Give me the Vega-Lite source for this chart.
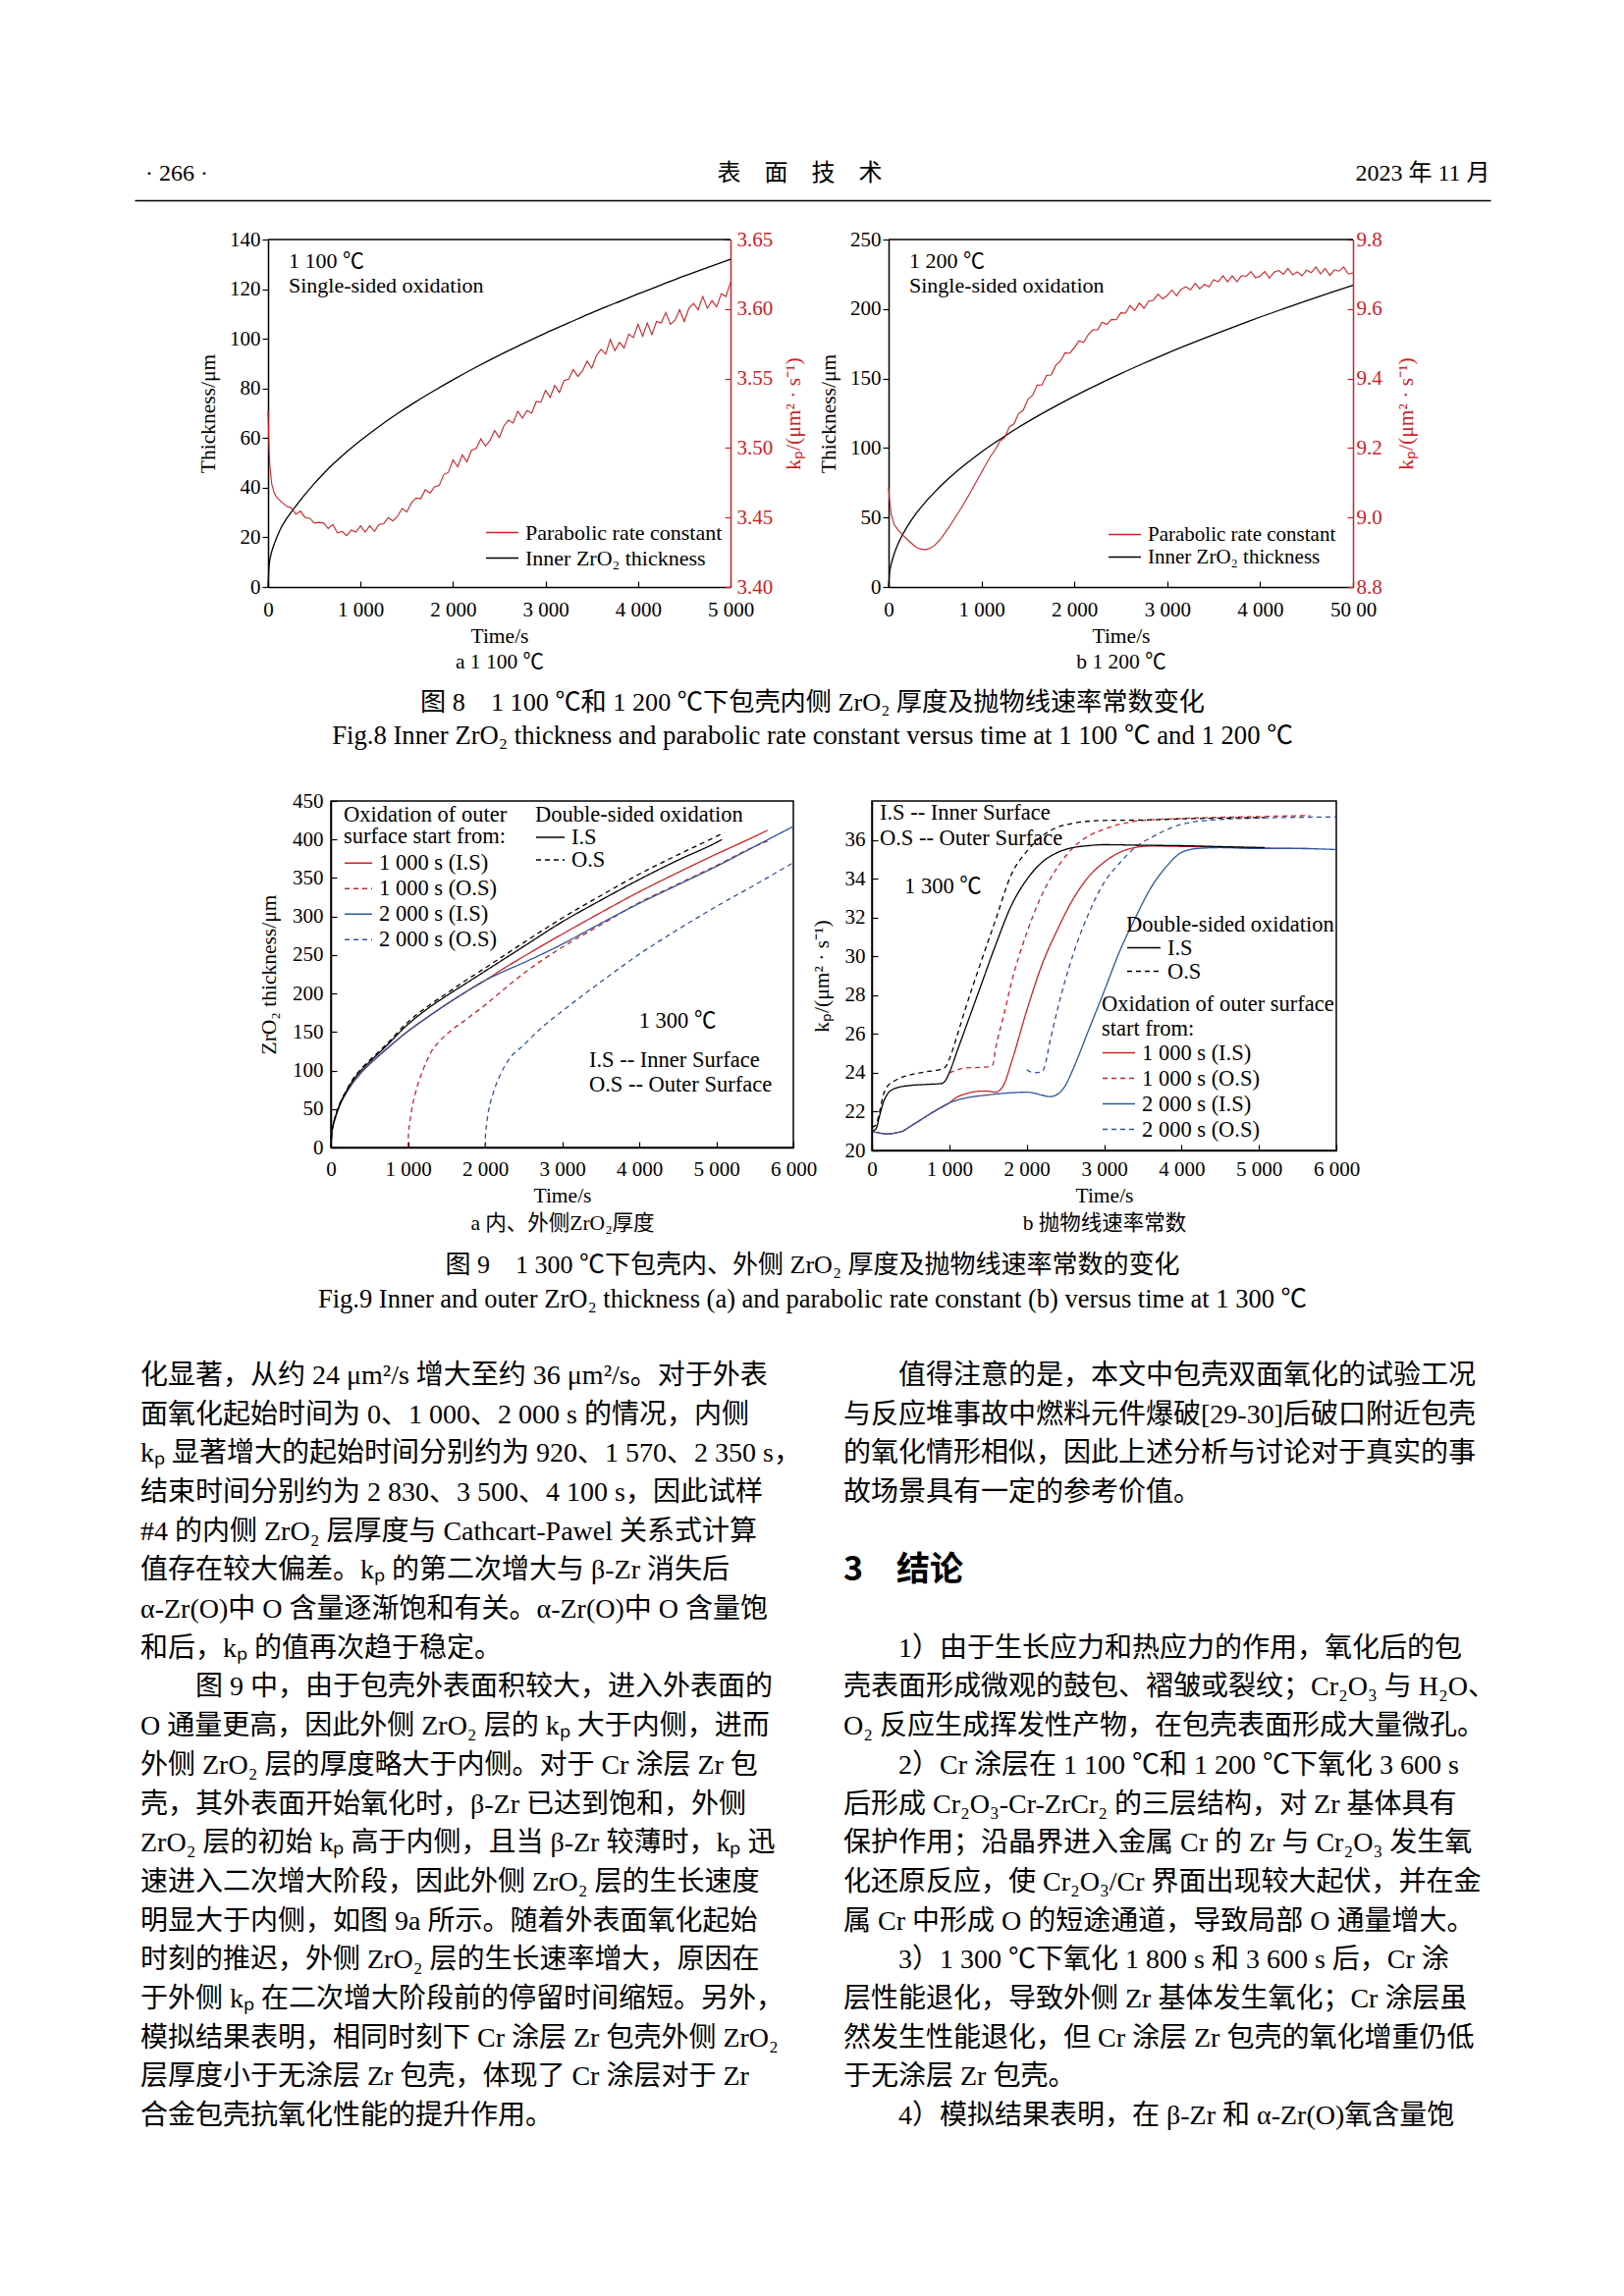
{
"$schema": "https://vega.github.io/schema/vega-lite/v6.json",
"width": 1654, "height": 2339,
"autosize": {"type": "none"},
"padding": 0,
"background": "white",
"config": {
  "view": {"stroke": null},
  "axis": {"grid": false, "labelFont": "Liberation Serif, Noto Sans CJK SC", "titleFont": "Liberation Serif, Noto Sans CJK SC", "labelFontSize": 21, "titleFontSize": 21.5, "titleFontWeight": "normal", "labelColor": "black", "titleColor": "black", "domainColor": "black", "tickColor": "black", "domainWidth": 1.5, "tickWidth": 1.2, "labelFlush": false, "labelOverlap": false},
  "legend": {"orient": "none", "labelFont": "Liberation Serif, Noto Sans CJK SC", "titleFont": "Liberation Serif, Noto Sans CJK SC", "labelFontSize": 22.5, "titleFontSize": 22.5, "titleFontWeight": "normal", "labelColor": "black", "titleColor": "black", "symbolType": "stroke", "symbolStrokeWidth": 1.5, "padding": 0, "rowPadding": 4, "labelOffset": 6, "titlePadding": 5, "labelLimit": 500, "titleLimit": 500},
  "text": {"font": "Liberation Serif, Noto Sans CJK SC", "color": "black"}
},
"datasets": {
  "header": [{"part": "page", "text": "· 266 ·"}, {"part": "journal", "text": "表　面　技　术"}, {"part": "date", "text": "2023 年 11 月"}],
  "cap8": [{"lang": "zh", "text": "图 8　1 100 ℃和 1 200 ℃下包壳内侧 ZrO₂ 厚度及抛物线速率常数变化"}, {"lang": "en", "text": "Fig.8 Inner ZrO₂ thickness and parabolic rate constant versus time at 1 100 ℃ and 1 200 ℃"}],
  "cap9": [{"lang": "zh", "text": "图 9　1 300 ℃下包壳内、外侧 ZrO₂ 厚度及抛物线速率常数的变化"}, {"lang": "en", "text": "Fig.9 Inner and outer ZrO₂ thickness (a) and parabolic rate constant (b) versus time at 1 300 ℃"}],
  "ann8a": [{"label": ["1 100 ℃", "Single-sided oxidation"]}],
  "ann8b": [{"label": ["1 200 ℃", "Single-sided oxidation"]}],
  "ann9a_t": [{"label": "1 300 ℃"}],
  "ann9_s": [{"label": ["I.S -- Inner Surface", "O.S -- Outer Surface"]}],
  "f8a_thick": [{"t":0,"v":0},{"t":10,"v":8},{"t":25,"v":12},{"t":50,"v":15.5},{"t":100,"v":20.5},{"t":150,"v":24.5},{"t":200,"v":27.5},{"t":300,"v":32.6},{"t":400,"v":37.3},{"t":500,"v":41.7},{"t":600,"v":45.7},{"t":700,"v":49.4},{"t":800,"v":52.8},{"t":1000,"v":59},{"t":1200,"v":64.7},{"t":1400,"v":69.9},{"t":1600,"v":74.7},{"t":1800,"v":79.2},{"t":2000,"v":83.5},{"t":2250,"v":88.6},{"t":2500,"v":93.4},{"t":2750,"v":97.9},{"t":3000,"v":102.3},{"t":3250,"v":106.4},{"t":3500,"v":110.5},{"t":3750,"v":114.3},{"t":4000,"v":118.1},{"t":4250,"v":121.7},{"t":4500,"v":125.3},{"t":4750,"v":128.7},{"t":5000,"v":132}],
  "f8a_kp": [{"t":0,"v":3.527},{"t":5,"v":3.515},{"t":10,"v":3.5},{"t":20,"v":3.487},{"t":40,"v":3.474},{"t":70,"v":3.467},{"t":100,"v":3.464},{"t":150,"v":3.461},{"t":200,"v":3.458},{"t":250,"v":3.457},{"t":300,"v":3.4525},{"t":350,"v":3.4545},{"t":400,"v":3.45},{"t":450,"v":3.4495},{"t":500,"v":3.446},{"t":550,"v":3.4465},
    {"t":600,"v":3.446},{"t":650,"v":3.442},{"t":700,"v":3.445},{"t":750,"v":3.439},{"t":800,"v":3.44},{"t":850,"v":3.437},{"t":900,"v":3.441},{"t":950,"v":3.4395},{"t":1000,"v":3.444},{"t":1050,"v":3.4395},{"t":1100,"v":3.444},{"t":1150,"v":3.44},{"t":1200,"v":3.445},{"t":1250,"v":3.4455},{"t":1300,"v":3.45},{"t":1350,"v":3.4475},{"t":1400,"v":3.451},{"t":1450,"v":3.4565},{"t":1500,"v":3.454},{"t":1550,"v":3.4605},
    {"t":1600,"v":3.464},{"t":1650,"v":3.4635},{"t":1700,"v":3.47},{"t":1750,"v":3.4675},{"t":1800,"v":3.472},{"t":1850,"v":3.473},{"t":1900,"v":3.481},{"t":1950,"v":3.4825},{"t":2000,"v":3.4915},{"t":2050,"v":3.4865},{"t":2100,"v":3.495},{"t":2150,"v":3.49},{"t":2200,"v":3.4985},{"t":2250,"v":3.4995},{"t":2300,"v":3.5065},{"t":2350,"v":3.5015},{"t":2400,"v":3.5055},{"t":2450,"v":3.5125},{"t":2500,"v":3.5075},{"t":2550,"v":3.516},
    {"t":2600,"v":3.52},{"t":2650,"v":3.518},{"t":2700,"v":3.5265},{"t":2750,"v":3.5215},{"t":2800,"v":3.527},{"t":2850,"v":3.525},{"t":2900,"v":3.5335},{"t":2950,"v":3.533},{"t":3000,"v":3.5415},{"t":3050,"v":3.5365},{"t":3100,"v":3.545},{"t":3150,"v":3.54},{"t":3200,"v":3.5485},{"t":3250,"v":3.5495},{"t":3300,"v":3.5565},{"t":3350,"v":3.5515},{"t":3400,"v":3.5555},{"t":3450,"v":3.5625},{"t":3500,"v":3.5575},{"t":3550,"v":3.5665},
    {"t":3600,"v":3.571},{"t":3650,"v":3.5675},{"t":3700,"v":3.578},{"t":3750,"v":3.57},{"t":3800,"v":3.576},{"t":3850,"v":3.572},{"t":3900,"v":3.582},{"t":3950,"v":3.5795},{"t":4000,"v":3.589},{"t":4050,"v":3.5805},{"t":4100,"v":3.59},{"t":4150,"v":3.5815},{"t":4200,"v":3.591},{"t":4250,"v":3.59},{"t":4300,"v":3.5975},{"t":4350,"v":3.589},{"t":4400,"v":3.592},{"t":4450,"v":3.5995},{"t":4500,"v":3.591},{"t":4550,"v":3.6005},
    {"t":4600,"v":3.604},{"t":4650,"v":3.5995},{"t":4700,"v":3.609},{"t":4750,"v":3.6005},{"t":4800,"v":3.606},{"t":4850,"v":3.6015},{"t":4900,"v":3.611},{"t":4950,"v":3.609},{"t":5000,"v":3.619}],
  "f8b_thick": [{"t":0,"v":0},{"t":10,"v":9.7},{"t":25,"v":15.4},{"t":50,"v":21.7},{"t":100,"v":30.7},{"t":150,"v":37.6},{"t":200,"v":43.4},{"t":300,"v":53.2},{"t":400,"v":61.4},{"t":500,"v":68.6},{"t":600,"v":75.2},{"t":700,"v":81.2},{"t":800,"v":86.8},{"t":1000,"v":97.1},{"t":1200,"v":106.3},{"t":1400,"v":114.9},{"t":1600,"v":122.8},{"t":1800,"v":130.2},{"t":2000,"v":137.3},{"t":2250,"v":145.6},{"t":2500,"v":153.5},{"t":2750,"v":161},{"t":3000,"v":168.2},{"t":3250,"v":175},{"t":3500,"v":181.6},{"t":3750,"v":188},{"t":4000,"v":194.2},{"t":4250,"v":200.1},{"t":4500,"v":205.9},{"t":4750,"v":211.6},{"t":5000,"v":217.1}],
  "f8b_kp": [{"t":0,"v":9.087},{"t":10,"v":9.05},{"t":30,"v":9.007},{"t":60,"v":8.98},{"t":100,"v":8.965},{"t":150,"v":8.95},{"t":200,"v":8.937},{"t":250,"v":8.925},{"t":300,"v":8.914},{"t":350,"v":8.909},{"t":400,"v":8.907},{"t":450,"v":8.912},{"t":500,"v":8.921},{"t":550,"v":8.935},{"t":600,"v":8.953},{"t":650,"v":8.972},{"t":700,"v":8.993},{"t":750,"v":9.014},{"t":800,"v":9.035},{"t":850,"v":9.058},{"t":900,"v":9.082},{"t":950,"v":9.106},{"t":1000,"v":9.13},{"t":1050,"v":9.154},{"t":1100,"v":9.177},{"t":1150,"v":9.196},
    {"t":1200,"v":9.22},{"t":1250,"v":9.23},{"t":1300,"v":9.261},{"t":1350,"v":9.2695},{"t":1400,"v":9.299},{"t":1450,"v":9.309},{"t":1500,"v":9.34},{"t":1550,"v":9.3515},{"t":1600,"v":9.381},{"t":1650,"v":9.3815},{"t":1700,"v":9.409},{"t":1750,"v":9.41},{"t":1800,"v":9.438},{"t":1850,"v":9.45},{"t":1900,"v":9.474},{"t":1950,"v":9.4725},{"t":2000,"v":9.489},{"t":2050,"v":9.5085},{"t":2100,"v":9.504},{"t":2150,"v":9.5265},
    {"t":2200,"v":9.54},{"t":2250,"v":9.5405},{"t":2300,"v":9.562},{"t":2350,"v":9.5555},{"t":2400,"v":9.57},{"t":2450,"v":9.569},{"t":2500,"v":9.589},{"t":2550,"v":9.588},{"t":2600,"v":9.61},{"t":2650,"v":9.5955},{"t":2700,"v":9.617},{"t":2750,"v":9.602},{"t":2800,"v":9.623},{"t":2850,"v":9.625},{"t":2900,"v":9.643},{"t":2950,"v":9.629},{"t":3000,"v":9.639},{"t":3050,"v":9.6545},{"t":3100,"v":9.638},{"t":3150,"v":9.657},
    {"t":3200,"v":9.664},{"t":3250,"v":9.655},{"t":3300,"v":9.674},{"t":3350,"v":9.6585},{"t":3400,"v":9.671},{"t":3450,"v":9.6635},{"t":3500,"v":9.684},{"t":3550,"v":9.678},{"t":3600,"v":9.696},{"t":3650,"v":9.678},{"t":3700,"v":9.696},{"t":3750,"v":9.678},{"t":3800,"v":9.696},{"t":3850,"v":9.694},{"t":3900,"v":9.708},{"t":3950,"v":9.6895},{"t":4000,"v":9.695},{"t":4050,"v":9.708},{"t":4100,"v":9.689},{"t":4150,"v":9.706},
    {"t":4200,"v":9.711},{"t":4250,"v":9.7},{"t":4300,"v":9.717},{"t":4350,"v":9.698},{"t":4400,"v":9.707},{"t":4450,"v":9.6955},{"t":4500,"v":9.712},{"t":4550,"v":9.7045},{"t":4600,"v":9.721},{"t":4650,"v":9.701},{"t":4700,"v":9.717},{"t":4750,"v":9.697},{"t":4800,"v":9.713},{"t":4850,"v":9.709},{"t":4900,"v":9.7205},{"t":4950,"v":9.7005},{"t":5000,"v":9.704}],
  "f9a_ds": [
    {"surface":"I.S","t":0,"v":0},{"surface":"I.S","t":10,"v":17},{"surface":"I.S","t":25,"v":27},{"surface":"I.S","t":50,"v":37},{"surface":"I.S","t":100,"v":52},{"surface":"I.S","t":200,"v":73},{"surface":"I.S","t":300,"v":89},{"surface":"I.S","t":400,"v":101},{"surface":"I.S","t":500,"v":111},{"surface":"I.S","t":700,"v":130},{"surface":"I.S","t":1000,"v":160},{"surface":"I.S","t":1250,"v":180},{"surface":"I.S","t":1500,"v":197},{"surface":"I.S","t":1750,"v":213},{"surface":"I.S","t":2000,"v":229},{"surface":"I.S","t":2500,"v":261},{"surface":"I.S","t":3000,"v":293},{"surface":"I.S","t":3500,"v":321},{"surface":"I.S","t":4000,"v":348},{"surface":"I.S","t":4500,"v":373},{"surface":"I.S","t":5000,"v":396},{"surface":"I.S","t":5075,"v":400},
    {"surface":"O.S","t":0,"v":0},{"surface":"O.S","t":10,"v":18},{"surface":"O.S","t":25,"v":28},{"surface":"O.S","t":50,"v":38},{"surface":"O.S","t":100,"v":53},{"surface":"O.S","t":200,"v":74},{"surface":"O.S","t":300,"v":91},{"surface":"O.S","t":400,"v":103},{"surface":"O.S","t":500,"v":113},{"surface":"O.S","t":700,"v":132},{"surface":"O.S","t":1000,"v":163},{"surface":"O.S","t":1250,"v":183},{"surface":"O.S","t":1500,"v":200},{"surface":"O.S","t":1750,"v":217},{"surface":"O.S","t":2000,"v":233},{"surface":"O.S","t":2500,"v":266},{"surface":"O.S","t":3000,"v":298},{"surface":"O.S","t":3500,"v":327},{"surface":"O.S","t":4000,"v":355},{"surface":"O.S","t":4500,"v":380},{"surface":"O.S","t":5000,"v":404},{"surface":"O.S","t":5100,"v":409}],
  "f9a_os": [
    {"series":"1 000 s (I.S)","t":0,"v":0},{"series":"1 000 s (I.S)","t":10,"v":17},{"series":"1 000 s (I.S)","t":25,"v":27},{"series":"1 000 s (I.S)","t":50,"v":36},{"series":"1 000 s (I.S)","t":100,"v":51},{"series":"1 000 s (I.S)","t":200,"v":71},{"series":"1 000 s (I.S)","t":300,"v":86},{"series":"1 000 s (I.S)","t":400,"v":98},{"series":"1 000 s (I.S)","t":500,"v":108},{"series":"1 000 s (I.S)","t":700,"v":126},{"series":"1 000 s (I.S)","t":1000,"v":151},{"series":"1 000 s (I.S)","t":1250,"v":169},{"series":"1 000 s (I.S)","t":1500,"v":186},{"series":"1 000 s (I.S)","t":1750,"v":202},{"series":"1 000 s (I.S)","t":2000,"v":217},{"series":"1 000 s (I.S)","t":2250,"v":233},{"series":"1 000 s (I.S)","t":2500,"v":248},{"series":"1 000 s (I.S)","t":3000,"v":277},{"series":"1 000 s (I.S)","t":3500,"v":305},{"series":"1 000 s (I.S)","t":4000,"v":332},{"series":"1 000 s (I.S)","t":4500,"v":357},{"series":"1 000 s (I.S)","t":5000,"v":381},{"series":"1 000 s (I.S)","t":5500,"v":404},{"series":"1 000 s (I.S)","t":5665,"v":412},
    {"series":"1 000 s (O.S)","t":1000,"v":0},{"series":"1 000 s (O.S)","t":1005,"v":15},{"series":"1 000 s (O.S)","t":1020,"v":30},{"series":"1 000 s (O.S)","t":1050,"v":50},{"series":"1 000 s (O.S)","t":1100,"v":72},{"series":"1 000 s (O.S)","t":1200,"v":102},{"series":"1 000 s (O.S)","t":1300,"v":124},{"series":"1 000 s (O.S)","t":1400,"v":137},{"series":"1 000 s (O.S)","t":1500,"v":147},{"series":"1 000 s (O.S)","t":1750,"v":166},{"series":"1 000 s (O.S)","t":2000,"v":185},{"series":"1 000 s (O.S)","t":2250,"v":206},{"series":"1 000 s (O.S)","t":2500,"v":226},{"series":"1 000 s (O.S)","t":3000,"v":260},{"series":"1 000 s (O.S)","t":3500,"v":289},{"series":"1 000 s (O.S)","t":4000,"v":318},{"series":"1 000 s (O.S)","t":4500,"v":342},{"series":"1 000 s (O.S)","t":5000,"v":366},{"series":"1 000 s (O.S)","t":5500,"v":391},{"series":"1 000 s (O.S)","t":5665,"v":398},
    {"series":"2 000 s (I.S)","t":0,"v":0},{"series":"2 000 s (I.S)","t":10,"v":17},{"series":"2 000 s (I.S)","t":25,"v":27},{"series":"2 000 s (I.S)","t":50,"v":36},{"series":"2 000 s (I.S)","t":100,"v":51},{"series":"2 000 s (I.S)","t":200,"v":71},{"series":"2 000 s (I.S)","t":300,"v":86},{"series":"2 000 s (I.S)","t":400,"v":98},{"series":"2 000 s (I.S)","t":500,"v":108},{"series":"2 000 s (I.S)","t":700,"v":126},{"series":"2 000 s (I.S)","t":1000,"v":151},{"series":"2 000 s (I.S)","t":1250,"v":169},{"series":"2 000 s (I.S)","t":1500,"v":186},{"series":"2 000 s (I.S)","t":1750,"v":202},{"series":"2 000 s (I.S)","t":2000,"v":217},{"series":"2 000 s (I.S)","t":2250,"v":229},{"series":"2 000 s (I.S)","t":2500,"v":240},{"series":"2 000 s (I.S)","t":3000,"v":264},{"series":"2 000 s (I.S)","t":3500,"v":291},{"series":"2 000 s (I.S)","t":4000,"v":317},{"series":"2 000 s (I.S)","t":4500,"v":341},{"series":"2 000 s (I.S)","t":5000,"v":365},{"series":"2 000 s (I.S)","t":5500,"v":391},{"series":"2 000 s (I.S)","t":6000,"v":417},
    {"series":"2 000 s (O.S)","t":2000,"v":0},{"series":"2 000 s (O.S)","t":2005,"v":15},{"series":"2 000 s (O.S)","t":2020,"v":30},{"series":"2 000 s (O.S)","t":2050,"v":50},{"series":"2 000 s (O.S)","t":2100,"v":69},{"series":"2 000 s (O.S)","t":2200,"v":95},{"series":"2 000 s (O.S)","t":2300,"v":113},{"series":"2 000 s (O.S)","t":2500,"v":133},{"series":"2 000 s (O.S)","t":2750,"v":157},{"series":"2 000 s (O.S)","t":3000,"v":177},{"series":"2 000 s (O.S)","t":3500,"v":215},{"series":"2 000 s (O.S)","t":4000,"v":251},{"series":"2 000 s (O.S)","t":4500,"v":283},{"series":"2 000 s (O.S)","t":5000,"v":313},{"series":"2 000 s (O.S)","t":5500,"v":341},{"series":"2 000 s (O.S)","t":6000,"v":370}],
  "f9b_ds": [
    {"surface":"I.S","t":0,"v":21.0},{"surface":"I.S","t":50,"v":21.1},{"surface":"I.S","t":100,"v":21.8},{"surface":"I.S","t":150,"v":22.5},{"surface":"I.S","t":200,"v":22.9},{"surface":"I.S","t":300,"v":23.2},{"surface":"I.S","t":500,"v":23.35},{"surface":"I.S","t":700,"v":23.4},{"surface":"I.S","t":900,"v":23.45},{"surface":"I.S","t":950,"v":23.6},{"surface":"I.S","t":1000,"v":24.0},{"surface":"I.S","t":1100,"v":25.1},{"surface":"I.S","t":1200,"v":26.2},{"surface":"I.S","t":1400,"v":28.4},{"surface":"I.S","t":1600,"v":30.6},{"surface":"I.S","t":1800,"v":32.6},{"surface":"I.S","t":2000,"v":33.95},{"surface":"I.S","t":2200,"v":34.85},{"surface":"I.S","t":2400,"v":35.35},{"surface":"I.S","t":2600,"v":35.6},{"surface":"I.S","t":2800,"v":35.7},{"surface":"I.S","t":3000,"v":35.75},{"surface":"I.S","t":3500,"v":35.72},{"surface":"I.S","t":4000,"v":35.7},{"surface":"I.S","t":4500,"v":35.65},{"surface":"I.S","t":5075,"v":35.6},
    {"surface":"O.S","t":0,"v":21.2},{"surface":"O.S","t":50,"v":21.3},{"surface":"O.S","t":100,"v":22.0},{"surface":"O.S","t":150,"v":22.9},{"surface":"O.S","t":200,"v":23.3},{"surface":"O.S","t":300,"v":23.6},{"surface":"O.S","t":500,"v":23.9},{"surface":"O.S","t":700,"v":24.05},{"surface":"O.S","t":900,"v":24.2},{"surface":"O.S","t":950,"v":24.3},{"surface":"O.S","t":1000,"v":24.7},{"surface":"O.S","t":1100,"v":25.9},{"surface":"O.S","t":1200,"v":27.2},{"surface":"O.S","t":1400,"v":29.6},{"surface":"O.S","t":1600,"v":31.9},{"surface":"O.S","t":1800,"v":34.2},{"surface":"O.S","t":2000,"v":35.4},{"surface":"O.S","t":2200,"v":36.2},{"surface":"O.S","t":2400,"v":36.65},{"surface":"O.S","t":2600,"v":36.85},{"surface":"O.S","t":3000,"v":37.0},{"surface":"O.S","t":3500,"v":37.02},{"surface":"O.S","t":4000,"v":37.08},{"surface":"O.S","t":4500,"v":37.12},{"surface":"O.S","t":5075,"v":37.15}],
  "f9b_os": [
    {"series":"1 000 s (I.S)","t":0,"v":21.0},{"series":"1 000 s (I.S)","t":100,"v":20.9},{"series":"1 000 s (I.S)","t":200,"v":20.85},{"series":"1 000 s (I.S)","t":300,"v":20.9},{"series":"1 000 s (I.S)","t":400,"v":21.0},{"series":"1 000 s (I.S)","t":500,"v":21.25},{"series":"1 000 s (I.S)","t":600,"v":21.5},{"series":"1 000 s (I.S)","t":800,"v":22.0},{"series":"1 000 s (I.S)","t":1000,"v":22.45},{"series":"1 000 s (I.S)","t":1100,"v":22.75},{"series":"1 000 s (I.S)","t":1200,"v":22.9},{"series":"1 000 s (I.S)","t":1400,"v":23.05},{"series":"1 000 s (I.S)","t":1500,"v":23.05},{"series":"1 000 s (I.S)","t":1600,"v":23.0},{"series":"1 000 s (I.S)","t":1650,"v":23.1},{"series":"1 000 s (I.S)","t":1700,"v":23.35},{"series":"1 000 s (I.S)","t":1800,"v":24.5},{"series":"1 000 s (I.S)","t":2000,"v":27.2},{"series":"1 000 s (I.S)","t":2200,"v":29.6},{"series":"1 000 s (I.S)","t":2400,"v":31.4},{"series":"1 000 s (I.S)","t":2600,"v":32.95},{"series":"1 000 s (I.S)","t":2800,"v":34.1},{"series":"1 000 s (I.S)","t":3000,"v":34.85},{"series":"1 000 s (I.S)","t":3200,"v":35.35},{"series":"1 000 s (I.S)","t":3400,"v":35.6},{"series":"1 000 s (I.S)","t":3600,"v":35.68},{"series":"1 000 s (I.S)","t":4000,"v":35.66},{"series":"1 000 s (I.S)","t":5000,"v":35.58},{"series":"1 000 s (I.S)","t":5665,"v":35.55},
    {"series":"1 000 s (O.S)","t":1000,"v":24.0},{"series":"1 000 s (O.S)","t":1100,"v":24.15},{"series":"1 000 s (O.S)","t":1200,"v":24.25},{"series":"1 000 s (O.S)","t":1400,"v":24.28},{"series":"1 000 s (O.S)","t":1500,"v":24.3},{"series":"1 000 s (O.S)","t":1560,"v":24.4},{"series":"1 000 s (O.S)","t":1600,"v":25.3},{"series":"1 000 s (O.S)","t":1700,"v":26.9},{"series":"1 000 s (O.S)","t":1800,"v":28.6},{"series":"1 000 s (O.S)","t":2000,"v":31.2},{"series":"1 000 s (O.S)","t":2200,"v":33.2},{"series":"1 000 s (O.S)","t":2400,"v":34.6},{"series":"1 000 s (O.S)","t":2600,"v":35.6},{"series":"1 000 s (O.S)","t":2800,"v":36.2},{"series":"1 000 s (O.S)","t":3000,"v":36.55},{"series":"1 000 s (O.S)","t":3200,"v":36.8},{"series":"1 000 s (O.S)","t":3500,"v":37.0},{"series":"1 000 s (O.S)","t":4000,"v":37.1},{"series":"1 000 s (O.S)","t":5000,"v":37.2},{"series":"1 000 s (O.S)","t":5665,"v":37.25},
    {"series":"2 000 s (I.S)","t":0,"v":21.0},{"series":"2 000 s (I.S)","t":100,"v":20.9},{"series":"2 000 s (I.S)","t":200,"v":20.85},{"series":"2 000 s (I.S)","t":300,"v":20.9},{"series":"2 000 s (I.S)","t":400,"v":21.0},{"series":"2 000 s (I.S)","t":500,"v":21.25},{"series":"2 000 s (I.S)","t":600,"v":21.5},{"series":"2 000 s (I.S)","t":800,"v":22.0},{"series":"2 000 s (I.S)","t":1000,"v":22.45},{"series":"2 000 s (I.S)","t":1200,"v":22.69},{"series":"2 000 s (I.S)","t":1500,"v":22.86},{"series":"2 000 s (I.S)","t":1800,"v":22.97},{"series":"2 000 s (I.S)","t":2000,"v":23.0},{"series":"2 000 s (I.S)","t":2100,"v":22.95},{"series":"2 000 s (I.S)","t":2200,"v":22.85},{"series":"2 000 s (I.S)","t":2300,"v":22.77},{"series":"2 000 s (I.S)","t":2400,"v":22.9},{"series":"2 000 s (I.S)","t":2500,"v":23.35},{"series":"2 000 s (I.S)","t":2600,"v":24.2},{"series":"2 000 s (I.S)","t":2800,"v":26.2},{"series":"2 000 s (I.S)","t":3000,"v":28.2},{"series":"2 000 s (I.S)","t":3200,"v":30.25},{"series":"2 000 s (I.S)","t":3400,"v":31.95},{"series":"2 000 s (I.S)","t":3600,"v":33.5},{"series":"2 000 s (I.S)","t":3800,"v":34.6},{"series":"2 000 s (I.S)","t":4000,"v":35.35},{"series":"2 000 s (I.S)","t":4200,"v":35.55},{"series":"2 000 s (I.S)","t":4500,"v":35.6},{"series":"2 000 s (I.S)","t":5000,"v":35.55},{"series":"2 000 s (I.S)","t":5500,"v":35.55},{"series":"2 000 s (I.S)","t":6000,"v":35.5},
    {"series":"2 000 s (O.S)","t":2000,"v":24.15},{"series":"2 000 s (O.S)","t":2100,"v":24.0},{"series":"2 000 s (O.S)","t":2200,"v":24.05},{"series":"2 000 s (O.S)","t":2230,"v":24.3},{"series":"2 000 s (O.S)","t":2300,"v":25.6},{"series":"2 000 s (O.S)","t":2400,"v":27.3},{"series":"2 000 s (O.S)","t":2600,"v":30.1},{"series":"2 000 s (O.S)","t":2800,"v":32.2},{"series":"2 000 s (O.S)","t":3000,"v":33.8},{"series":"2 000 s (O.S)","t":3200,"v":34.8},{"series":"2 000 s (O.S)","t":3400,"v":35.6},{"series":"2 000 s (O.S)","t":3600,"v":36.1},{"series":"2 000 s (O.S)","t":3800,"v":36.5},{"series":"2 000 s (O.S)","t":4000,"v":36.8},{"series":"2 000 s (O.S)","t":4500,"v":37.05},{"series":"2 000 s (O.S)","t":5000,"v":37.12},{"series":"2 000 s (O.S)","t":6000,"v":37.18}],
  "body": [
    {"col":"left","line":1,"text":"化显著，从约 24 μm²/s 增大至约 36 μm²/s。对于外表"},
    {"col":"left","line":2,"text":"面氧化起始时间为 0、1 000、2 000 s 的情况，内侧"},
    {"col":"left","line":3,"text":"kₚ 显著增大的起始时间分别约为 920、1 570、2 350 s，"},
    {"col":"left","line":4,"text":"结束时间分别约为 2 830、3 500、4 100 s，因此试样"},
    {"col":"left","line":5,"text":"#4 的内侧 ZrO₂ 层厚度与 Cathcart-Pawel 关系式计算"},
    {"col":"left","line":6,"text":"值存在较大偏差。kₚ 的第二次增大与 β-Zr 消失后"},
    {"col":"left","line":7,"text":"α-Zr(O)中 O 含量逐渐饱和有关。α-Zr(O)中 O 含量饱"},
    {"col":"left","line":8,"text":"和后，kₚ 的值再次趋于稳定。"},
    {"col":"left","line":9,"text":"\u200b\u3000\u3000图 9 中，由于包壳外表面积较大，进入外表面的"},
    {"col":"left","line":10,"text":"O 通量更高，因此外侧 ZrO₂ 层的 kₚ 大于内侧，进而"},
    {"col":"left","line":11,"text":"外侧 ZrO₂ 层的厚度略大于内侧。对于 Cr 涂层 Zr 包"},
    {"col":"left","line":12,"text":"壳，其外表面开始氧化时，β-Zr 已达到饱和，外侧"},
    {"col":"left","line":13,"text":"ZrO₂ 层的初始 kₚ 高于内侧，且当 β-Zr 较薄时，kₚ 迅"},
    {"col":"left","line":14,"text":"速进入二次增大阶段，因此外侧 ZrO₂ 层的生长速度"},
    {"col":"left","line":15,"text":"明显大于内侧，如图 9a 所示。随着外表面氧化起始"},
    {"col":"left","line":16,"text":"时刻的推迟，外侧 ZrO₂ 层的生长速率增大，原因在"},
    {"col":"left","line":17,"text":"于外侧 kₚ 在二次增大阶段前的停留时间缩短。另外，"},
    {"col":"left","line":18,"text":"模拟结果表明，相同时刻下 Cr 涂层 Zr 包壳外侧 ZrO₂"},
    {"col":"left","line":19,"text":"层厚度小于无涂层 Zr 包壳，体现了 Cr 涂层对于 Zr"},
    {"col":"left","line":20,"text":"合金包壳抗氧化性能的提升作用。"},
    {"col":"right","line":1,"text":"\u200b\u3000\u3000值得注意的是，本文中包壳双面氧化的试验工况"},
    {"col":"right","line":2,"text":"与反应堆事故中燃料元件爆破[29-30]后破口附近包壳"},
    {"col":"right","line":3,"text":"的氧化情形相似，因此上述分析与讨论对于真实的事"},
    {"col":"right","line":4,"text":"故场景具有一定的参考价值。"},
    {"col":"right","line":8,"text":"\u200b\u3000\u30001）由于生长应力和热应力的作用，氧化后的包"},
    {"col":"right","line":9,"text":"壳表面形成微观的鼓包、褶皱或裂纹；Cr₂O₃ 与 H₂O、"},
    {"col":"right","line":10,"text":"O₂ 反应生成挥发性产物，在包壳表面形成大量微孔。"},
    {"col":"right","line":11,"text":"\u200b\u3000\u30002）Cr 涂层在 1 100 ℃和 1 200 ℃下氧化 3 600 s"},
    {"col":"right","line":12,"text":"后形成 Cr₂O₃-Cr-ZrCr₂ 的三层结构，对 Zr 基体具有"},
    {"col":"right","line":13,"text":"保护作用；沿晶界进入金属 Cr 的 Zr 与 Cr₂O₃ 发生氧"},
    {"col":"right","line":14,"text":"化还原反应，使 Cr₂O₃/Cr 界面出现较大起伏，并在金"},
    {"col":"right","line":15,"text":"属 Cr 中形成 O 的短途通道，导致局部 O 通量增大。"},
    {"col":"right","line":16,"text":"\u200b\u3000\u30003）1 300 ℃下氧化 1 800 s 和 3 600 s 后，Cr 涂"},
    {"col":"right","line":17,"text":"层性能退化，导致外侧 Zr 基体发生氧化；Cr 涂层虽"},
    {"col":"right","line":18,"text":"然发生性能退化，但 Cr 涂层 Zr 包壳的氧化增重仍低"},
    {"col":"right","line":19,"text":"于无涂层 Zr 包壳。"},
    {"col":"right","line":20,"text":"\u200b\u3000\u30004）模拟结果表明，在 β-Zr 和 α-Zr(O)氧含量饱"}],
  "heading": [{"label": "3　结论"}]
},
"layer": [
  {"data": {"name": "header"}, "mark": {"type": "text", "fontSize": 24, "align": "center", "baseline": "middle"},
   "encoding": {
     "x": {"field": "part", "type": "nominal", "scale": {"type": "point", "domain": ["page", "journal", "date"], "range": [137, 1518], "padding": 0.0883, "align": 0.384}, "axis": {"orient": "top", "offset": -204, "labels": false, "ticks": false, "title": null, "domain": true}},
     "y": {"datum": 1, "type": "quantitative", "scale": {"domain": [0, 1], "range": [204, 177]}, "axis": null},
     "text": {"field": "text"}}},
  {"data": {"name": "cap8"}, "mark": {"type": "text", "align": "center", "baseline": "middle"},
   "encoding": {
     "x": {"datum": 0.5, "type": "quantitative", "scale": {"domain": [0, 1], "range": [137, 1518]}, "axis": null},
     "y": {"field": "lang", "type": "nominal", "scale": {"type": "point", "domain": ["zh", "en"], "range": [716, 750], "padding": 0}, "axis": null},
     "size": {"field": "lang", "type": "ordinal", "scale": {"domain": ["zh", "en"], "range": [26.2, 26.7]}, "legend": null},
     "text": {"field": "text"}}},
  {"data": {"name": "cap9"}, "mark": {"type": "text", "align": "center", "baseline": "middle"},
   "encoding": {
     "x": {"datum": 0.5, "type": "quantitative", "scale": {"domain": [0, 1], "range": [137, 1518]}, "axis": null},
     "y": {"field": "lang", "type": "nominal", "scale": {"type": "point", "domain": ["zh", "en"], "range": [1289, 1324], "padding": 0}, "axis": null},
     "size": {"field": "lang", "type": "ordinal", "scale": {"domain": ["zh", "en"], "range": [26, 26.5]}, "legend": null},
     "text": {"field": "text"}}},

  {"data": {"name": "f8a_thick"}, "mark": {"type": "line", "strokeWidth": 1.3, "interpolate": "monotone"},
   "encoding": {
     "x": {"field": "t", "type": "quantitative", "scale": {"domain": [0, 5000], "range": [273, 744], "nice": false, "zero": false},
           "axis": {"orient": "bottom", "offset": -1741, "values": [0, 1000, 2000, 3000, 4000, 5000], "labelExpr": "replace(format(datum.value, ','), ',', ' ')", "tickSize": -6, "labelPadding": 18, "title": ["Time/s", "a  1 100 ℃"], "titlePadding": 6, "titleLineHeight": 26}},
     "y": {"field": "v", "type": "quantitative", "scale": {"domain": [0, 140], "range": [598, 244], "nice": false, "zero": false},
           "axis": {"orient": "left", "offset": -273, "values": [0, 20, 40, 60, 80, 100, 120, 140], "tickSize": 6, "labelPadding": 2, "title": "Thickness/μm", "titlePadding": 10}},
     "color": {"datum": "Inner ZrO₂ thickness", "scale": {"range": ["black"]}, "legend": {"legendX": 494, "legendY": 551, "symbolSize": 1089, "title": null, "labelFontSize": 22}}}},
  {"data": {"name": "f8a_kp"}, "mark": {"type": "line", "strokeWidth": 1.1},
   "encoding": {
     "x": {"field": "t", "type": "quantitative", "scale": {"domain": [0, 5000], "range": [273, 744], "nice": false, "zero": false}, "axis": null},
     "y": {"field": "v", "type": "quantitative", "scale": {"domain": [3.4, 3.65], "range": [598, 244], "nice": false, "zero": false},
           "axis": {"orient": "right", "offset": -910, "values": [3.4, 3.45, 3.5, 3.55, 3.6, 3.65], "format": ".2f", "tickSize": -6, "labelPadding": 12, "title": "kₚ/(μm² · s⁻¹)", "titleAngle": 270, "titleBaseline": "top", "titlePadding": 11, "labelColor": "#cc2229", "titleColor": "#cc2229", "domainColor": "#cc2229", "tickColor": "#cc2229"}},
     "color": {"datum": "Parabolic rate constant", "scale": {"range": ["#cc2229"]}, "legend": {"legendX": 494, "legendY": 525, "symbolSize": 1089, "title": null, "labelFontSize": 22}}}},
  {"data": {"values": [{}]}, "mark": {"type": "rule", "strokeWidth": 1.5, "color": "black"},
   "encoding": {
     "x": {"datum": 0, "type": "quantitative", "scale": {"domain": [0, 5000], "range": [273, 744]}, "axis": null},
     "x2": {"datum": 5000},
     "y": {"datum": 140, "type": "quantitative", "scale": {"domain": [0, 140], "range": [598, 244]}, "axis": null}}},
  {"data": {"name": "ann8a"}, "mark": {"type": "text", "align": "left", "baseline": "top", "fontSize": 22, "lineHeight": 25},
   "encoding": {
     "x": {"datum": 223, "type": "quantitative", "scale": {"domain": [0, 5000], "range": [273, 744]}, "axis": null},
     "y": {"datum": 135.3, "type": "quantitative", "scale": {"domain": [0, 140], "range": [598, 244]}, "axis": null},
     "text": {"field": "label"}}},

  {"data": {"name": "f8b_thick"}, "mark": {"type": "line", "strokeWidth": 1.3, "interpolate": "monotone"},
   "encoding": {
     "x": {"field": "t", "type": "quantitative", "scale": {"domain": [0, 5000], "range": [905, 1378], "nice": false, "zero": false},
           "axis": {"orient": "bottom", "offset": -1741, "values": [0, 1000, 2000, 3000, 4000, 5000], "labelExpr": "datum.value == 5000 ? '50 00' : replace(format(datum.value, ','), ',', ' ')", "tickSize": -6, "labelPadding": 18, "title": ["Time/s", "b  1 200 ℃"], "titlePadding": 6, "titleLineHeight": 26}},
     "y": {"field": "v", "type": "quantitative", "scale": {"domain": [0, 250], "range": [598, 244], "nice": false, "zero": false},
           "axis": {"orient": "left", "offset": -905, "values": [0, 50, 100, 150, 200, 250], "tickSize": 6, "labelPadding": 2, "title": "Thickness/μm", "titlePadding": 10}},
     "color": {"datum": "Inner ZrO₂ thickness", "scale": {"range": ["black"]}, "legend": {"legendX": 1128, "legendY": 550, "symbolSize": 1089, "title": null, "labelFontSize": 21}}}},
  {"data": {"name": "f8b_kp"}, "mark": {"type": "line", "strokeWidth": 1.1},
   "encoding": {
     "x": {"field": "t", "type": "quantitative", "scale": {"domain": [0, 5000], "range": [905, 1378], "nice": false, "zero": false}, "axis": null},
     "y": {"field": "v", "type": "quantitative", "scale": {"domain": [8.8, 9.8], "range": [598, 244], "nice": false, "zero": false},
           "axis": {"orient": "right", "offset": -276, "values": [8.8, 9.0, 9.2, 9.4, 9.6, 9.8], "format": ".1f", "tickSize": -6, "labelPadding": 9, "title": "kₚ/(μm² · s⁻¹)", "titleAngle": 270, "titleBaseline": "top", "titlePadding": 14, "labelColor": "#cc2229", "titleColor": "#cc2229", "domainColor": "#cc2229", "tickColor": "#cc2229"}},
     "color": {"datum": "Parabolic rate constant", "scale": {"range": ["#cc2229"]}, "legend": {"legendX": 1128, "legendY": 527, "symbolSize": 1089, "title": null, "labelFontSize": 21}}}},
  {"data": {"values": [{}]}, "mark": {"type": "rule", "strokeWidth": 1.5, "color": "black"},
   "encoding": {
     "x": {"datum": 0, "type": "quantitative", "scale": {"domain": [0, 5000], "range": [905, 1378]}, "axis": null},
     "x2": {"datum": 5000},
     "y": {"datum": 250, "type": "quantitative", "scale": {"domain": [0, 250], "range": [598, 244]}, "axis": null}}},
  {"data": {"name": "ann8b"}, "mark": {"type": "text", "align": "left", "baseline": "top", "fontSize": 22, "lineHeight": 25},
   "encoding": {
     "x": {"datum": 222, "type": "quantitative", "scale": {"domain": [0, 5000], "range": [905, 1378]}, "axis": null},
     "y": {"datum": 241.5, "type": "quantitative", "scale": {"domain": [0, 250], "range": [598, 244]}, "axis": null},
     "text": {"field": "label"}}},

  {"data": {"values": [{}]}, "mark": {"type": "rect", "filled": false, "color": "black", "strokeWidth": 1.5},
   "encoding": {
     "x": {"datum": 0, "type": "quantitative", "scale": {"domain": [0, 6000], "range": [337, 808]}, "axis": null},
     "x2": {"datum": 6000},
     "y": {"datum": 0, "type": "quantitative", "scale": {"domain": [0, 450], "range": [1169, 816]}, "axis": null},
     "y2": {"datum": 450}}},
  {"data": {"name": "f9a_os"}, "mark": {"type": "line", "strokeWidth": 1.3, "interpolate": "monotone"},
   "encoding": {
     "x": {"field": "t", "type": "quantitative", "scale": {"domain": [0, 6000], "range": [337, 808], "nice": false, "zero": false},
           "axis": {"orient": "bottom", "offset": -1170, "values": [0, 1000, 2000, 3000, 4000, 5000, 6000], "labelExpr": "replace(format(datum.value, ','), ',', ' ')", "tickSize": -6, "labelPadding": 17, "title": ["Time/s", "a  内、外侧ZrO₂厚度"], "titlePadding": 6, "titleLineHeight": 28}},
     "y": {"field": "v", "type": "quantitative", "scale": {"domain": [0, 450], "range": [1169, 816], "nice": false, "zero": false},
           "axis": {"orient": "left", "offset": -337, "values": [0, 50, 100, 150, 200, 250, 300, 350, 400, 450], "tickSize": -6, "labelPadding": 14, "title": "ZrO₂ thickness/μm", "titlePadding": 12}},
     "color": {"field": "series", "type": "nominal", "scale": {"domain": ["1 000 s (I.S)", "1 000 s (O.S)", "2 000 s (I.S)", "2 000 s (O.S)"], "range": ["#cc2229", "#cc2229", "#2f5597", "#2f5597"]},
               "legend": {"title": ["Oxidation of outer", "surface start from:"], "titleLineHeight": 22, "legendX": 350, "legendY": 819, "symbolSize": 784, "rowPadding": 0, "clipHeight": 25.5, "titlePadding": 3}},
     "strokeDash": {"field": "series", "type": "nominal", "scale": {"domain": ["1 000 s (I.S)", "1 000 s (O.S)", "2 000 s (I.S)", "2 000 s (O.S)"], "range": [[1, 0], [5, 4], [1, 0], [5, 4]]},
               "legend": {"title": ["Oxidation of outer", "surface start from:"], "titleLineHeight": 22, "legendX": 350, "legendY": 819, "symbolSize": 784, "rowPadding": 0, "clipHeight": 25.5, "titlePadding": 3}}}},
  {"data": {"name": "f9a_ds"}, "mark": {"type": "line", "strokeWidth": 1.3, "interpolate": "monotone", "color": "black"},
   "encoding": {
     "x": {"field": "t", "type": "quantitative", "scale": {"domain": [0, 6000], "range": [337, 808], "nice": false, "zero": false}, "axis": null},
     "y": {"field": "v", "type": "quantitative", "scale": {"domain": [0, 450], "range": [1169, 816], "nice": false, "zero": false}, "axis": null},
     "strokeDash": {"field": "surface", "type": "nominal", "scale": {"domain": ["I.S", "O.S"], "range": [[1, 0], [5, 4]]},
               "legend": {"title": "Double-sided oxidation", "legendX": 545, "legendY": 819, "symbolSize": 841, "symbolStrokeColor": "black", "rowPadding": 0, "clipHeight": 23, "titlePadding": 0}}}},
  {"data": {"name": "ann9a_t"}, "mark": {"type": "text", "align": "center", "baseline": "middle", "fontSize": 22.5},
   "encoding": {
     "x": {"datum": 4497, "type": "quantitative", "scale": {"domain": [0, 6000], "range": [337, 808]}, "axis": null},
     "y": {"datum": 164.4, "type": "quantitative", "scale": {"domain": [0, 450], "range": [1169, 816]}, "axis": null},
     "text": {"field": "label"}}},
  {"data": {"name": "ann9_s"}, "mark": {"type": "text", "align": "left", "baseline": "top", "fontSize": 22.5, "lineHeight": 25},
   "encoding": {
     "x": {"datum": 3350, "type": "quantitative", "scale": {"domain": [0, 6000], "range": [337, 808]}, "axis": null},
     "y": {"datum": 127, "type": "quantitative", "scale": {"domain": [0, 450], "range": [1169, 816]}, "axis": null},
     "text": {"field": "label"}}},

  {"data": {"values": [{}]}, "mark": {"type": "rect", "filled": false, "color": "black", "strokeWidth": 1.5},
   "encoding": {
     "x": {"datum": 0, "type": "quantitative", "scale": {"domain": [0, 6000], "range": [888, 1361]}, "axis": null},
     "x2": {"datum": 6000},
     "y": {"datum": 20, "type": "quantitative", "scale": {"domain": [20, 38], "range": [1172, 816]}, "axis": null},
     "y2": {"datum": 38}}},
  {"data": {"name": "f9b_os"}, "mark": {"type": "line", "strokeWidth": 1.3, "interpolate": "monotone"},
   "encoding": {
     "x": {"field": "t", "type": "quantitative", "scale": {"domain": [0, 6000], "range": [888, 1361], "nice": false, "zero": false},
           "axis": {"orient": "bottom", "offset": -1167, "values": [0, 1000, 2000, 3000, 4000, 5000, 6000], "labelExpr": "replace(format(datum.value, ','), ',', ' ')", "tickSize": -6, "labelPadding": 14, "title": ["Time/s", "b  抛物线速率常数"], "titlePadding": 6, "titleLineHeight": 28}},
     "y": {"field": "v", "type": "quantitative", "scale": {"domain": [20, 38], "range": [1172, 816], "nice": false, "zero": false},
           "axis": {"orient": "left", "offset": -888, "values": [20, 22, 24, 26, 28, 30, 32, 34, 36], "tickSize": -6, "labelPadding": 13, "title": "kₚ/(μm² · s⁻¹)", "titlePadding": 12}},
     "color": {"field": "series", "type": "nominal", "scale": {"domain": ["1 000 s (I.S)", "1 000 s (O.S)", "2 000 s (I.S)", "2 000 s (O.S)"], "range": ["#cc2229", "#cc2229", "#2f5597", "#2f5597"]},
               "legend": {"title": ["Oxidation of outer surface", "start from:"], "titleLineHeight": 25, "legendX": 1122, "legendY": 1012, "symbolSize": 1089, "rowPadding": 0, "clipHeight": 26, "titlePadding": 0}},
     "strokeDash": {"field": "series", "type": "nominal", "scale": {"domain": ["1 000 s (I.S)", "1 000 s (O.S)", "2 000 s (I.S)", "2 000 s (O.S)"], "range": [[1, 0], [5, 4], [1, 0], [5, 4]]},
               "legend": {"title": ["Oxidation of outer surface", "start from:"], "titleLineHeight": 25, "legendX": 1122, "legendY": 1012, "symbolSize": 1089, "rowPadding": 0, "clipHeight": 26, "titlePadding": 0}}}},
  {"data": {"name": "f9b_ds"}, "mark": {"type": "line", "strokeWidth": 1.3, "interpolate": "monotone", "color": "black"},
   "encoding": {
     "x": {"field": "t", "type": "quantitative", "scale": {"domain": [0, 6000], "range": [888, 1361], "nice": false, "zero": false}, "axis": null},
     "y": {"field": "v", "type": "quantitative", "scale": {"domain": [20, 38], "range": [1172, 816], "nice": false, "zero": false}, "axis": null},
     "strokeDash": {"field": "surface", "type": "nominal", "scale": {"domain": ["I.S", "O.S"], "range": [[1, 0], [5, 4]]},
               "legend": {"title": "Double-sided oxidation", "legendX": 1147, "legendY": 931, "symbolSize": 1156, "symbolStrokeColor": "black", "rowPadding": 0, "clipHeight": 24, "titlePadding": 0}}}},
  {"data": {"name": "ann9_s"}, "mark": {"type": "text", "align": "left", "baseline": "top", "fontSize": 22.5, "lineHeight": 26},
   "encoding": {
     "x": {"datum": 101, "type": "quantitative", "scale": {"domain": [0, 6000], "range": [888, 1361]}, "axis": null},
     "y": {"datum": 37.95, "type": "quantitative", "scale": {"domain": [20, 38], "range": [1172, 816]}, "axis": null},
     "text": {"field": "label"}}},
  {"data": {"name": "ann9a_t"}, "mark": {"type": "text", "align": "left", "baseline": "middle", "fontSize": 22.5},
   "encoding": {
     "x": {"datum": 419, "type": "quantitative", "scale": {"domain": [0, 6000], "range": [888, 1361]}, "axis": null},
     "y": {"datum": 33.6, "type": "quantitative", "scale": {"domain": [20, 38], "range": [1172, 816]}, "axis": null},
     "text": {"field": "label"}}},

  {"data": {"name": "body"}, "mark": {"type": "text", "align": "left", "baseline": "middle", "fontSize": 28},
   "encoding": {
     "x": {"field": "col", "type": "nominal", "scale": {"type": "point", "domain": ["left", "right"], "range": [143, 859], "padding": 0}, "axis": null},
     "y": {"field": "line", "type": "quantitative", "scale": {"domain": [1, 20], "range": [1402, 2156], "nice": false, "zero": false}, "axis": null},
     "text": {"field": "text"}}},
  {"data": {"name": "heading"}, "mark": {"type": "text", "align": "left", "baseline": "middle", "fontSize": 34, "font": "Noto Sans CJK SC", "fontWeight": "bold"},
   "encoding": {
     "x": {"datum": "right", "type": "nominal", "scale": {"type": "point", "domain": ["left", "right"], "range": [143, 859], "padding": 0}, "axis": null},
     "y": {"datum": 6, "type": "quantitative", "scale": {"domain": [1, 20], "range": [1402, 2156], "nice": false, "zero": false}, "axis": null},
     "text": {"field": "label"}}}
],
"resolve": {
  "scale": {"x": "independent", "y": "independent", "color": "independent", "strokeDash": "independent", "size": "independent"},
  "axis": {"x": "independent", "y": "independent"},
  "legend": {"color": "independent", "strokeDash": "independent", "size": "independent"}
}
}
